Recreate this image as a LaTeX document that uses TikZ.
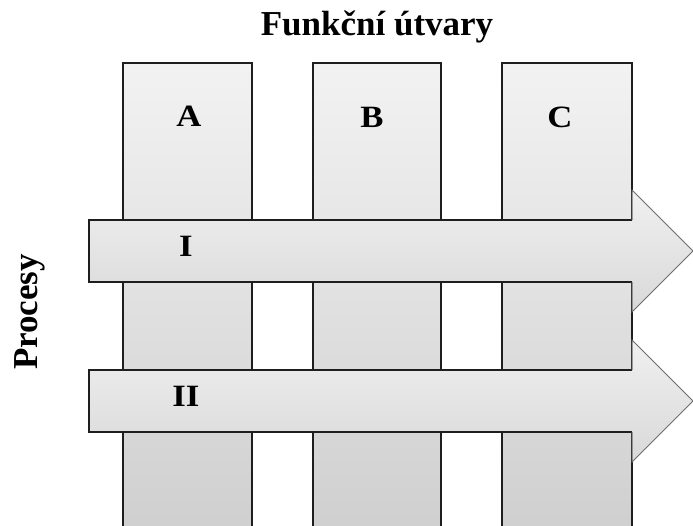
\documentclass[tikz,border=0pt]{standalone}
\usepackage{fontspec}
\setmainfont{Liberation Serif}
\usetikzlibrary{positioning}
\definecolor{edge}{RGB}{30, 30, 30}
\definecolor{headedge}{RGB}{110, 110, 110}

\tikzset{
  unit/.style={draw=edge, line width=1.4pt, top color=black!5, bottom color=black!19},
  flow/.style={top color=black!6, bottom color=black!15},
  lbl/.style={font=\fontsize{35}{40}\selectfont\bfseries},
  tag/.style={font=\fontsize{31}{36}\selectfont\bfseries, xscale=1.12}
}

\begin{document}
\begin{tikzpicture}[x=1pt, y=-1pt]
                \useasboundingbox (0,0) rectangle (693,525);
                \clip (0,0) rectangle (693,525);
                \node[lbl] (title) at (377,27) {Funkční útvary};
                \node[lbl, rotate=90] (proc) at (30,312) {Procesy};

                % funkcni utvary
                \draw[unit] (123,63) rectangle (252,540);
                \draw[unit] (313,63) rectangle (441,540);
                \draw[unit] (502,63) rectangle (632,540);
                \node[tag] (a) at (189,116) {A};
                \node[tag] (b) at (372,117) {B};
                \node[tag] (c) at (560,117) {C};

                % procesy
                \foreach \y/\t/\n in {251/I/p1, 401/II/p2} {
                    \fill[flow] (89,\y-31) -- (632,\y-31) -- (632,\y-61) -- (693,\y)
                        -- (632,\y+61) -- (632,\y+31) -- (89,\y+31) -- cycle;
                    \draw[edge, line width=1.4pt] (632,\y-31) -- (89,\y-31) -- (89,\y+31) -- (632,\y+31);
                    \draw[headedge, line width=1pt] (632,\y-31) -- (632,\y-61) -- (693,\y)
                        -- (632,\y+61) -- (632,\y+31);
                    \node[tag] (\n) at (186,\y-5) {\t};
                }
            \end{tikzpicture}
\end{document}
